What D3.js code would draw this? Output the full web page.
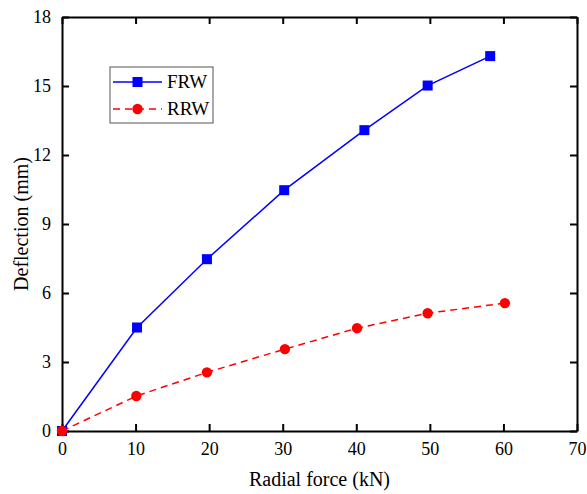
<!DOCTYPE html>
<html>
<head>
<meta charset="utf-8">
<script src="https://cdn.jsdelivr.net/npm/d3@7"></script>
<style>
  body { margin: 0; background: #fff; }
  text { font-family: "Liberation Serif", "Times New Roman", serif; fill: #000; }
</style>
</head>
<body>
<svg id="chart" width="587" height="494"></svg>
<script>
// Data
const forceFRW = [0, 10.2, 19.7, 30.2, 41.1, 49.7, 58.2];
const deflFRW = [0, 4.5, 7.47, 10.47, 13.08, 15.02, 16.3];
const forceRRW = [0, 10.1, 19.7, 30.3, 40.1, 49.7, 60.2];
const deflRRW = [0, 1.52, 2.55, 3.56, 4.47, 5.12, 5.56];
const xTicks = [0, 10, 20, 30, 40, 50, 60, 70];
const yTicks = [0, 3, 6, 9, 12, 15, 18];

const margin = {left: 62, top: 17, right: 10, bottom: 63};
const width = 587, height = 494;
const svg = d3.select("#chart");

const x = d3.scaleLinear().domain([0, 70]).range([margin.left, width - margin.right]);
const y = d3.scaleLinear().domain([0, 18]).range([height - margin.bottom, margin.top]);

// axes, ticks point inward
const tickLen = 7;
function styleAxis(g) {
  g.select(".domain").attr("stroke", "#000").attr("stroke-width", 2);
  g.selectAll(".tick line").attr("stroke", "#000").attr("stroke-width", 2);
  g.selectAll(".tick text").style("font-size", "18px");
}

svg.append("g")
  .attr("transform", `translate(0,${y(0)})`)
  .call(d3.axisBottom(x).tickValues(xTicks).tickSizeInner(-tickLen).tickSizeOuter(0).tickPadding(11))
  .call(styleAxis);

svg.append("g")
  .attr("transform", `translate(0,${y(18)})`)
  .call(d3.axisTop(x).tickValues(xTicks).tickSizeInner(-tickLen).tickSizeOuter(0).tickFormat(""))
  .call(styleAxis);

svg.append("g")
  .attr("transform", `translate(${x(0)},0)`)
  .call(d3.axisLeft(y).tickValues(yTicks).tickSizeInner(-tickLen).tickSizeOuter(0).tickPadding(11))
  .call(styleAxis);

svg.append("g")
  .attr("transform", `translate(${x(70)},0)`)
  .call(d3.axisRight(y).tickValues(yTicks).tickSizeInner(-tickLen).tickSizeOuter(0).tickFormat(""))
  .call(styleAxis);

// axis titles
svg.append("text")
  .attr("x", (x(0) + x(70)) / 2)
  .attr("y", 486)
  .attr("text-anchor", "middle")
  .style("font-size", "20px")
  .text("Radial force (kN)");

svg.append("text")
  .attr("transform", `translate(28,${(y(0) + y(18)) / 2}) rotate(-90)`)
  .attr("text-anchor", "middle")
  .style("font-size", "20px")
  .text("Deflection (mm)");

// series
const line = d3.line().x(d => x(d[0])).y(d => y(d[1]));
const frw = forceFRW.map((f, i) => [f, deflFRW[i]]);
const rrw = forceRRW.map((f, i) => [f, deflRRW[i]]);

svg.append("path").datum(rrw)
  .attr("d", line).attr("fill", "none")
  .attr("stroke", "#ff0000").attr("stroke-width", 1.5)
  .attr("stroke-dasharray", "7,5");

svg.append("path").datum(frw)
  .attr("d", line).attr("fill", "none")
  .attr("stroke", "#0000ff").attr("stroke-width", 1.5);

svg.selectAll(".sq").data(frw).enter().append("rect")
  .attr("x", d => x(d[0]) - 5).attr("y", d => y(d[1]) - 5)
  .attr("width", 10).attr("height", 10)
  .attr("fill", "#0000ff");

svg.selectAll(".dot").data(rrw).enter().append("circle")
  .attr("cx", d => x(d[0])).attr("cy", d => y(d[1]))
  .attr("r", 5.2)
  .attr("fill", "#ff0000");

// legend
const lg = svg.append("g").attr("transform", "translate(110,67)");
lg.append("rect").attr("width", 103).attr("height", 56)
  .attr("fill", "#fff").attr("stroke", "#555").attr("stroke-width", 1);

lg.append("line").attr("x1", 3).attr("x2", 52).attr("y1", 15).attr("y2", 15)
  .attr("stroke", "#0000ff").attr("stroke-width", 1.5);
lg.append("rect").attr("x", 22.5).attr("y", 10).attr("width", 10).attr("height", 10)
  .attr("fill", "#0000ff");
lg.append("text").attr("x", 57).attr("y", 21).style("font-size", "19px").text("FRW");

lg.append("line").attr("x1", 3).attr("x2", 52).attr("y1", 42).attr("y2", 42)
  .attr("stroke", "#ff0000").attr("stroke-width", 1.5).attr("stroke-dasharray", "7,5");
lg.append("circle").attr("cx", 27.5).attr("cy", 42).attr("r", 5.2).attr("fill", "#ff0000");
lg.append("text").attr("x", 57).attr("y", 48).style("font-size", "19px").text("RRW");
</script>
</body>
</html>
